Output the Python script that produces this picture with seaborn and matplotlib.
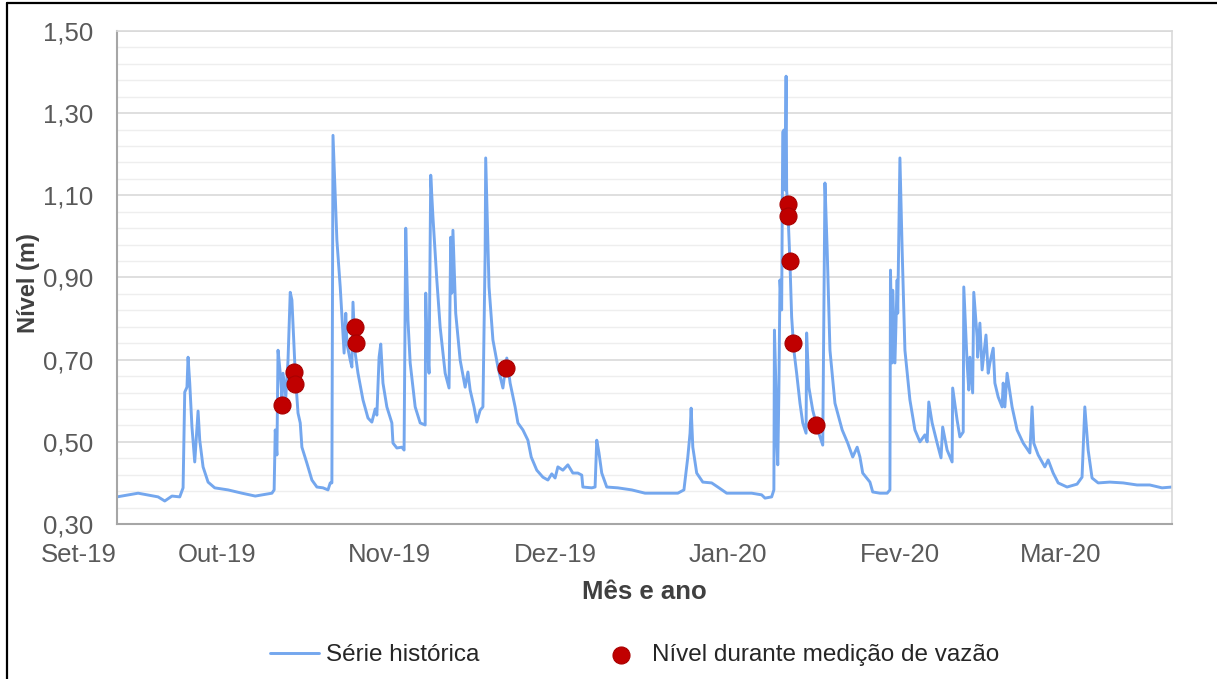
import matplotlib
matplotlib.use("Agg")
import matplotlib.pyplot as plt
import matplotlib.dates as mdates
from matplotlib.lines import Line2D
from matplotlib.ticker import FixedLocator, FuncFormatter
import numpy as np
import pandas as pd
import seaborn as sns

# serie historica: dias desde 13/09/2019 e nivel (m)
inicio = "2019-09-13"
fim = "2020-03-21"

dias_serie = [
    0.0, 3.8, 7.4, 8.6, 9.9, 11.3, 11.9, 12.2, 12.6, 12.8, 13.1, 13.5, 14.0, 14.6, 14.9,
    15.5, 16.4, 17.6, 20.0, 22.5, 24.9, 27.9, 28.3, 28.5, 28.8, 29.0, 29.4, 29.7, 29.9, 30.4,
    30.8, 31.2, 31.5, 32.1, 32.6, 33.0, 33.3, 34.2, 35.1, 36.0, 37.1, 38.0, 38.4, 38.7, 38.9,
    39.3, 39.6, 40.2, 40.7, 40.9, 41.2, 41.4, 42.0, 42.3, 42.5, 42.9, 43.4, 44.3, 45.2, 45.9,
    46.5, 46.8, 47.2, 47.5, 47.9, 48.6, 49.5, 49.7, 50.4, 51.3, 51.7, 52.0, 52.4, 52.8, 53.7,
    54.6, 55.5, 55.6, 55.8, 56.2, 56.5, 56.9, 57.6, 58.2, 59.1, 59.8, 60.1, 60.3, 60.5, 61.0,
    61.8, 62.7, 63.2, 63.6, 64.3, 64.8, 65.4, 65.9, 66.3, 66.4, 67.0, 67.7, 68.6, 69.5, 70.2,
    70.8, 71.7, 72.2, 73.1, 74.0, 74.6, 75.6, 76.7, 77.6, 78.3, 78.9, 79.4, 80.3, 81.2, 82.1,
    83.0, 83.7, 83.9, 85.5, 86.1, 86.4, 86.8, 87.3, 88.2, 90.2, 92.7, 95.1, 98.1, 101.0, 102.1,
    102.8, 103.2, 103.4, 103.7, 104.4, 105.5, 107.1, 108.2, 109.8, 111.8, 114.3, 116.1, 116.7, 117.9, 118.3,
    118.4, 118.7, 118.8, 119.0, 119.2, 119.4, 119.7, 119.9, 120.1, 120.3, 120.5, 120.6, 120.8, 121.2, 121.5,
    121.9, 122.4, 123.0, 123.5, 124.1, 124.2, 124.6, 125.3, 126.2, 127.1, 127.5, 127.9, 128.4, 129.3, 130.6,
    131.6, 132.5, 133.3, 133.8, 134.3, 135.6, 136.1, 137.4, 138.7, 139.2, 139.3, 139.6, 139.7, 140.1, 140.5,
    140.6, 141.0, 141.4, 141.9, 142.8, 143.7, 144.6, 145.5, 145.9, 146.2, 146.8, 147.7, 148.4, 148.7, 149.5,
    150.4, 150.5, 151.3, 151.8, 152.4, 152.5, 153.1, 153.4, 153.6, 154.1, 154.3, 154.9, 155.0, 155.4, 155.8,
    156.5, 156.9, 157.2, 157.8, 158.1, 158.7, 159.4, 159.6, 159.9, 160.3, 161.2, 162.1, 163.2, 164.4, 164.8,
    165.1, 165.9, 167.1, 167.7, 168.6, 169.5, 171.1, 172.9, 173.8, 174.3, 174.9, 175.6, 176.7, 178.8, 181.2,
    183.7, 186.0, 188.2, 190.0,
]
nivel_serie = [
    0.366, 0.375, 0.366, 0.356, 0.368, 0.366, 0.388, 0.621, 0.633, 0.706, 0.643, 0.536, 0.451, 0.575, 0.504,
    0.439, 0.402, 0.388, 0.383, 0.375, 0.368, 0.375, 0.383, 0.529, 0.468, 0.723, 0.667, 0.609, 0.667, 0.609,
    0.699, 0.864, 0.845, 0.667, 0.570, 0.546, 0.487, 0.448, 0.407, 0.390, 0.388, 0.383, 0.400, 0.400, 1.246,
    1.096, 0.991, 0.877, 0.765, 0.716, 0.813, 0.740, 0.699, 0.682, 0.840, 0.716, 0.667, 0.602, 0.558, 0.548,
    0.580, 0.565, 0.706, 0.738, 0.643, 0.585, 0.546, 0.497, 0.485, 0.487, 0.480, 1.020, 0.796, 0.692, 0.585,
    0.546, 0.541, 0.862, 0.755, 0.667, 1.149, 1.047, 0.894, 0.779, 0.667, 0.631, 0.998, 0.862, 1.015, 0.813,
    0.699, 0.633, 0.670, 0.626, 0.585, 0.548, 0.577, 0.585, 0.959, 1.191, 0.877, 0.748, 0.682, 0.631, 0.704,
    0.643, 0.585, 0.546, 0.529, 0.504, 0.463, 0.431, 0.414, 0.407, 0.422, 0.412, 0.439, 0.431, 0.444, 0.424,
    0.424, 0.419, 0.390, 0.388, 0.390, 0.504, 0.473, 0.424, 0.390, 0.388, 0.383, 0.375, 0.375, 0.375, 0.383,
    0.463, 0.521, 0.582, 0.487, 0.424, 0.402, 0.400, 0.390, 0.375, 0.375, 0.375, 0.371, 0.363, 0.366, 0.383,
    0.772, 0.619, 0.504, 0.444, 0.619, 0.894, 0.821, 1.254, 1.259, 1.113, 1.390, 1.113, 1.071, 0.935, 0.804,
    0.723, 0.667, 0.594, 0.546, 0.521, 0.765, 0.633, 0.577, 0.529, 0.492, 1.130, 0.967, 0.723, 0.594, 0.529,
    0.497, 0.463, 0.487, 0.463, 0.424, 0.402, 0.378, 0.375, 0.375, 0.383, 0.918, 0.692, 0.869, 0.692, 0.894,
    0.813, 1.191, 0.967, 0.723, 0.602, 0.529, 0.500, 0.517, 0.500, 0.597, 0.546, 0.497, 0.461, 0.536, 0.480,
    0.451, 0.631, 0.553, 0.512, 0.524, 0.877, 0.692, 0.626, 0.706, 0.619, 0.864, 0.755, 0.706, 0.789, 0.675,
    0.760, 0.667, 0.692, 0.728, 0.643, 0.609, 0.585, 0.643, 0.585, 0.667, 0.585, 0.529, 0.497, 0.473, 0.585,
    0.497, 0.468, 0.439, 0.456, 0.424, 0.400, 0.390, 0.397, 0.414, 0.585, 0.480, 0.412, 0.400, 0.402, 0.400,
    0.395, 0.395, 0.388, 0.390,
]

# nivel durante as medicoes de vazao
dias_medicao = [29.7, 31.9, 32.1, 42.9, 43.0, 70.1, 120.8, 120.8, 121.2, 121.7, 125.9]
nivel_medicao = [0.59, 0.67, 0.64, 0.78, 0.74, 0.68, 1.08, 1.05, 0.94, 0.74, 0.54]

meses = ["Set-19", "Out-19", "Nov-19", "Dez-19", "Jan-20", "Fev-20", "Mar-20"]
datas_meses = [inicio, "2019-10-01", "2019-11-01", "2019-12-01", "2020-01-01", "2020-02-01", "2020-03-01"]

t0 = pd.Timestamp(inicio)
serie = pd.DataFrame({
    "data": t0 + pd.to_timedelta(dias_serie, unit="D"),
    "nivel": nivel_serie,
})
medicao = pd.DataFrame({
    "data": t0 + pd.to_timedelta(dias_medicao, unit="D"),
    "nivel": nivel_medicao,
})

sns.set_style("white")
plt.rcParams["font.family"] = ["Liberation Sans", "DejaVu Sans"]

W, H = 1217, 679
fig = plt.figure(figsize=(W / 100, H / 100), dpi=100)
ax = fig.add_axes([117 / W, 1 - 524 / H, 1055 / W, 493 / H])

sns.lineplot(data=serie, x="data", y="nivel", ax=ax, color="#74a7ee", linewidth=2.1,
             estimator=None, sort=False, label="Série histórica", zorder=2)
sns.scatterplot(data=medicao, x="data", y="nivel", ax=ax, s=150, color="#c00000",
                edgecolor="#a80000", linewidth=0.8, label="Nível durante medição de vazão", zorder=3)

ax.set_xlim(pd.Timestamp(inicio), pd.Timestamp(fim))
ax.set_ylim(0.30, 1.50)

# eixo y
ax.yaxis.set_major_locator(FixedLocator(np.round(np.arange(0.30, 1.51, 0.20), 2)))
ax.yaxis.set_minor_locator(FixedLocator(np.round(np.arange(0.30, 1.51, 0.04), 2)))
ax.yaxis.set_major_formatter(FuncFormatter(lambda v, p: f"{v:.2f}".replace(".", ",")))
ax.grid(which="minor", axis="y", color="#eeeeee", linewidth=1.0, zorder=0)
ax.grid(which="major", axis="y", color="#d9d9d9", linewidth=1.2, zorder=0)
ax.set_axisbelow(True)

# eixo x
ax.set_xticks(mdates.date2num(pd.to_datetime(datas_meses)))
ax.set_xticklabels(meses)
ax.get_xticklabels()[0].set_ha("right")

ax.tick_params(axis="both", which="both", length=0, labelsize=18.5, labelcolor="#595959")
ax.tick_params(axis="x", pad=14)
ax.tick_params(axis="y", pad=17)

for side in ["top", "right"]:
    ax.spines[side].set_color("#d9d9d9")
    ax.spines[side].set_linewidth(1.2)
for side in ["left", "bottom"]:
    ax.spines[side].set_color("#a6a6a6")
    ax.spines[side].set_linewidth(1.5)

ax.set_xlabel("Mês e ano", fontsize=18.5, fontweight="bold", color="#404040", va="center")
ax.xaxis.set_label_coords(0.5, (524 - 592) / 493)
ax.set_ylabel("Nível (m)", fontsize=17, fontweight="bold", color="#404040", va="center")
ax.yaxis.set_label_coords((29 - 117) / 1055, (524 - 283) / 493)

handles, labels = ax.get_legend_handles_labels()
ax.legend_.remove()
fig.legend(handles, labels, loc="center", bbox_to_anchor=(635 / W, 1 - 655 / H), ncol=2,
           frameon=False, fontsize=17.5, handlelength=2.0, handletextpad=0.3,
           columnspacing=4.8, markerscale=1.0)

# moldura da figura
fig.add_artist(Line2D([7 / W, 7 / W], [0, 1 - 3 / H], color="black", linewidth=1.6,
                      transform=fig.transFigure))
fig.add_artist(Line2D([7 / W, 1], [1 - 3 / H, 1 - 3 / H], color="black", linewidth=1.6,
                      transform=fig.transFigure))

fig.savefig("out.png", dpi=100)
